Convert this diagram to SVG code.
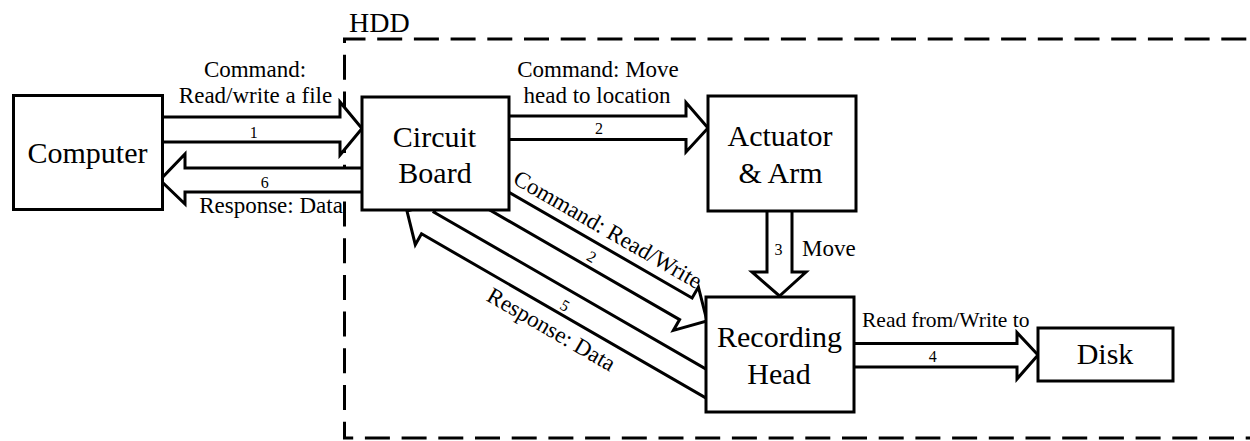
<svg xmlns="http://www.w3.org/2000/svg" width="1250" height="441" viewBox="0 0 1250 441">
<style>
text{font-family:"Liberation Serif","Times New Roman",serif;fill:#000}
.node{font-size:30px;text-anchor:middle}
.lbl{font-size:23px;text-anchor:middle}
.num{font-size:16px;text-anchor:middle}
.box{fill:#fff;stroke:#000;stroke-width:3}
.arr{fill:#fff;stroke:#000;stroke-width:3;stroke-linejoin:miter}
.hdd{fill:none;stroke:#000;stroke-width:3;stroke-dasharray:25 11.7;stroke-dashoffset:33}
</style>
<rect width="1250" height="441" fill="#fff"/>
<g id="hdd">
<path class="hdd" d="M1250 39 H344.5 V438 H1250"/>
<text x="349" y="31.5" style="font-size:28px">HDD</text>
</g>
<g id="connectors">
<polygon class="arr" points="150,117 340,117 340,102 362,128.5 340,155 340,142 150,142"/>
<polygon class="arr" points="375,168 185,168 185,154 160,180 185,204 185,192 375,192"/>
<polygon class="arr" points="495,116 686,116 686,102.5 708,128 686,152 686,139.5 495,139.5"/>
<polygon class="arr" points="767,200 767,272 752,272 779.5,296 806,272 792,272 792,200"/>
<polygon class="arr" points="840,343.5 1017,343.5 1017,332.5 1038,355 1017,379 1017,367 840,367"/>
<polygon class="arr" points="492.9,183 692.1,298 698.4,287.1 707,321 673.4,330.4 679.6,319.6 471.8,199.6"/>
<polygon class="arr" points="407,211 440.3,201.35 434,212.2 720,377.2 720,406.1 421.5,233.8 415.3,244.65"/>
<text class="lbl" x="255" y="77">Command:</text>
<text class="lbl" x="255.5" y="103">Read/write a file</text>
<text class="num" x="253.7" y="137.5">1</text>
<text class="num" x="264.7" y="188">6</text>
<text class="lbl" x="271" y="213">Response: Data</text>
<text class="lbl" x="598" y="77">Command: Move</text>
<text class="lbl" x="597" y="103">head to location</text>
<text class="num" x="599" y="134">2</text>
<text class="num" x="778.5" y="255">3</text>
<text class="lbl" x="802" y="256" style="text-anchor:start">Move</text>
<text class="lbl" x="862" y="327" style="text-anchor:start;font-size:21.5px">Read from/Write to</text>
<text class="num" x="932.7" y="362">4</text>
<text class="lbl" transform="translate(604,236) rotate(30)">Command: Read/Write</text>
<text class="num" transform="translate(589,261.5) rotate(30)">2</text>
<text class="num" transform="translate(562.3,310.3) rotate(30)">5</text>
<text class="lbl" transform="translate(547.6,336) rotate(30)">Response: Data</text>
</g>
<g id="computer">
<rect class="box" x="13.5" y="95.5" width="149" height="114"/>
<text class="node" x="87.5" y="163">Computer</text>
</g>
<g id="circuit-board">
<rect class="box" x="362" y="97" width="147" height="113"/>
<text class="node" x="434.5" y="146.5">Circuit</text>
<text class="node" x="435" y="182.5">Board</text>
</g>
<g id="actuator-arm">
<rect class="box" x="708" y="96" width="148" height="115"/>
<text class="node" x="780" y="146">Actuator</text>
<text class="node" x="780.5" y="182.5">&amp; Arm</text>
</g>
<g id="recording-head">
<rect class="box" x="706" y="297" width="148" height="115"/>
<text class="node" x="779.5" y="347">Recording</text>
<text class="node" x="779" y="384">Head</text>
</g>
<g id="disk">
<rect class="box" x="1038" y="328" width="135" height="53"/>
<text class="node" x="1105" y="364">Disk</text>
</g>
</svg>
